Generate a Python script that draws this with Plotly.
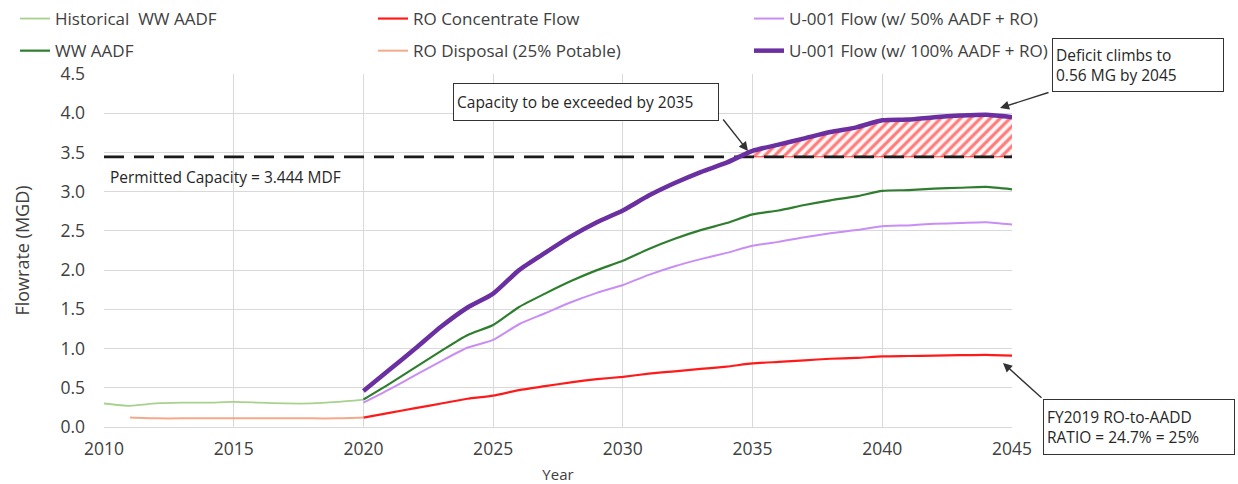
import plotly.graph_objects as go

# ---------------- data ----------------
hist_years = list(range(2010, 2021))
hist_ww_aadf = [0.30, 0.27, 0.30, 0.31, 0.31, 0.32, 0.31, 0.30, 0.30, 0.32, 0.35]

disp_years = list(range(2011, 2021))
ro_disposal = [0.12, 0.11, 0.11, 0.11, 0.11, 0.11, 0.11, 0.11, 0.11, 0.12]

proj_years = list(range(2020, 2046))
ro_concentrate = [0.12, 0.18, 0.24, 0.30, 0.36, 0.40, 0.47, 0.52, 0.57, 0.61,
                  0.64, 0.68, 0.71, 0.74, 0.77, 0.81, 0.83, 0.85, 0.87, 0.88,
                  0.90, 0.905, 0.91, 0.915, 0.92, 0.91]
ww_aadf = [0.35, 0.55, 0.76, 0.97, 1.17, 1.30, 1.53, 1.70, 1.86, 2.00,
           2.12, 2.27, 2.40, 2.51, 2.60, 2.71, 2.76, 2.83, 2.89, 2.94,
           3.01, 3.02, 3.04, 3.05, 3.06, 3.03]
u001_50 = [0.31, 0.48, 0.66, 0.84, 1.01, 1.11, 1.31, 1.45, 1.59, 1.71,
           1.81, 1.94, 2.05, 2.14, 2.22, 2.31, 2.36, 2.42, 2.47, 2.51,
           2.56, 2.57, 2.59, 2.60, 2.61, 2.58]
u001_100 = [0.46, 0.73, 1.00, 1.28, 1.52, 1.70, 2.00, 2.22, 2.43, 2.61,
            2.76, 2.95, 3.11, 3.25, 3.37, 3.52, 3.60, 3.68, 3.76, 3.82,
            3.91, 3.92, 3.95, 3.97, 3.98, 3.95]
permitted_capacity = 3.444

x_ticks = [2010, 2015, 2020, 2025, 2030, 2035, 2040, 2045]
y_ticks = [0.0, 0.5, 1.0, 1.5, 2.0, 2.5, 3.0, 3.5, 4.0, 4.5]

# deficit region (where U-001 100% exceeds capacity)
idx = next(i for i, v in enumerate(u001_100) if v > permitted_capacity)
y0, y1 = u001_100[idx - 1], u001_100[idx]
x0 = proj_years[idx - 1] + (permitted_capacity - y0) / (y1 - y0)
hatch_x = [x0] + proj_years[idx:]
hatch_y = [permitted_capacity] + u001_100[idx:]

FONT = "'Open Sans', sans-serif"
TXT = "#404040"

fig = go.Figure()

# hatch base + hatch fill
fig.add_trace(go.Scatter(x=hatch_x, y=[permitted_capacity] * len(hatch_x), mode="lines",
                         line=dict(color="rgba(255,0,0,0.8)", width=1), showlegend=False,
                         hoverinfo="skip"))
fig.add_trace(go.Scatter(x=hatch_x, y=hatch_y, mode="lines", fill="tonexty",
                         line=dict(color="rgba(255,0,0,0.8)", width=1, shape="spline", smoothing=0.5),
                         fillpattern=dict(shape="/", fgcolor="#ff0000", bgcolor="#fff6f6",
                                          size=7, solidity=0.45),
                         showlegend=False, hoverinfo="skip"))

# capacity dashed line
fig.add_trace(go.Scatter(x=[x_ticks[0], x_ticks[-1]], y=[permitted_capacity] * 2, mode="lines",
                         line=dict(color="#1a1a1a", width=2.6, dash="20px,10px"),
                         showlegend=False, hoverinfo="skip"))

sm = dict(shape="spline", smoothing=0.6)
fig.add_trace(go.Scatter(x=hist_years, y=hist_ww_aadf, mode="lines", name="Historical  WW AADF",
                         line=dict(color="#a9d18e", width=1.8, **sm), legend="legend",
                         legendgroup="a"))
fig.add_trace(go.Scatter(x=proj_years, y=ww_aadf, mode="lines", name="WW AADF",
                         line=dict(color="#2f7d2f", width=2.2, **sm), legend="legend",
                         legendgroup="b"))
fig.add_trace(go.Scatter(x=proj_years, y=ro_concentrate, mode="lines", name="RO Concentrate Flow",
                         line=dict(color="#ff1a1a", width=2.2, **sm), legend="legend2",
                         legendgroup="c"))
fig.add_trace(go.Scatter(x=disp_years, y=ro_disposal, mode="lines", name="RO Disposal (25% Potable)",
                         line=dict(color="#f4a98a", width=2.0, **sm), legend="legend2",
                         legendgroup="d"))
fig.add_trace(go.Scatter(x=proj_years, y=u001_50, mode="lines", name="U-001 Flow (w/ 50% AADF + RO)",
                         line=dict(color="#c98ef5", width=2.0, **sm), legend="legend3",
                         legendgroup="e"))
fig.add_trace(go.Scatter(x=proj_years, y=u001_100, mode="lines", name="U-001 Flow (w/ 100% AADF + RO)",
                         line=dict(color="#6a2fa0", width=4.5, **sm), legend="legend3",
                         legendgroup="f"))

L = 104; R = 1012; T = 74; B = 427
def px_x(p):
    return (p - L) / (R - L)
def px_y(p):
    return (B - p) / (B - T)

legend_common = dict(orientation="v", yanchor="top", xanchor="left", bgcolor="rgba(0,0,0,0)",
                     font=dict(family=FONT, size=17, color=TXT), tracegroupgap=7,
                     itemwidth=30)
fig.update_layout(
    legend=dict(x=px_x(15), y=px_y(1), **legend_common),
    legend2=dict(x=px_x(373), y=px_y(1), **legend_common),
    legend3=dict(x=px_x(749), y=px_y(1), **legend_common),
)

box_font = dict(family=FONT, size=15.5, color="#262626")
annotations = [
    dict(text="Permitted Capacity = 3.444 MDF", x=px_x(108), y=px_y(177), xref="paper", yref="paper",
         xanchor="left", yanchor="middle", showarrow=False, font=dict(family=FONT, size=15.5, color="#262626")),
    dict(text="Capacity to be exceeded by 2035", x=px_x(453), y=px_y(83), xref="paper", yref="paper",
         xanchor="left", yanchor="top", showarrow=False, font=box_font, bordercolor="#333333",
         borderwidth=1, bgcolor="white", width=258, height=30, align="left", borderpad=3),
    dict(text="Deficit climbs to<br>0.56 MG by 2045", x=px_x(1052), y=px_y(38), xref="paper",
         yref="paper", xanchor="left", yanchor="top", showarrow=False, font=box_font,
         bordercolor="#333333", borderwidth=1, bgcolor="white", width=164, height=46,
         align="left", borderpad=3),
    dict(text="FY2019 RO-to-AADD<br>RATIO = 24.7% = 25%", x=px_x(1043), y=px_y(399), xref="paper",
         yref="paper", xanchor="left", yanchor="top", showarrow=False, font=box_font,
         bordercolor="#333333", borderwidth=1, bgcolor="white", width=184, height=48,
         align="left", borderpad=3),
]
# arrows (tail -> tip) in data coordinates
def yr(p):
    return 2010 + (p - L) / (R - L) * 35
def fv(p):
    return (B - p) / (B - T) * 4.5
for (tx, ty), (hx, hy) in [((722, 118), (748, 151)), ((1050, 92), (1000, 108)), ((1043, 399), (1003, 363))]:
    annotations.append(dict(text="", x=yr(hx), y=fv(hy), ax=yr(tx), ay=fv(ty), xref="x", yref="y",
                            axref="x", ayref="y", showarrow=True, arrowhead=2, arrowsize=1.3,
                            arrowwidth=1.4, arrowcolor="#333333"))

fig.update_layout(
    width=1238, height=484,
    margin=dict(l=L, r=1238 - R, t=T, b=484 - B, autoexpand=False),
    paper_bgcolor="white", plot_bgcolor="white",
    font=dict(family=FONT, size=15, color=TXT),
    annotations=annotations,
    hovermode=False,
    xaxis=dict(range=[2010, 2045], tickvals=x_ticks, ticktext=[str(v) for v in x_ticks],
               showgrid=True, gridcolor="#d9d9d9", gridwidth=1, zeroline=False,
               showline=True, linecolor="#d9d9d9", ticks="", ticklabelstandoff=6,
               tickfont=dict(family=FONT, size=17.5, color=TXT),
               title=dict(text="Year", font=dict(family=FONT, size=15, color=TXT), standoff=10),
               automargin=False),
    yaxis=dict(range=[0, 4.5], tickvals=y_ticks, ticktext=[f"{v:.1f}" for v in y_ticks],
               showgrid=True, gridcolor="#d9d9d9", gridwidth=1, zeroline=False,
               showline=False, ticks="", ticklabelstandoff=18,
               tickfont=dict(family=FONT, size=17.5, color=TXT),
               title=dict(text="Flowrate (MGD)", font=dict(family=FONT, size=18, color=TXT),
                          standoff=26),
               automargin=False),
    showlegend=True,
)

fig.write_html("out.html", config={"displayModeBar": False})

# remove the default page margin so the figure sits at the window's top-left corner
with open("out.html", "r", encoding="utf-8") as f:
    html = f.read()
html = html.replace("<head>", "<head><style>html,body{margin:0;padding:0;}</style>", 1)
with open("out.html", "w", encoding="utf-8") as f:
    f.write(html)
